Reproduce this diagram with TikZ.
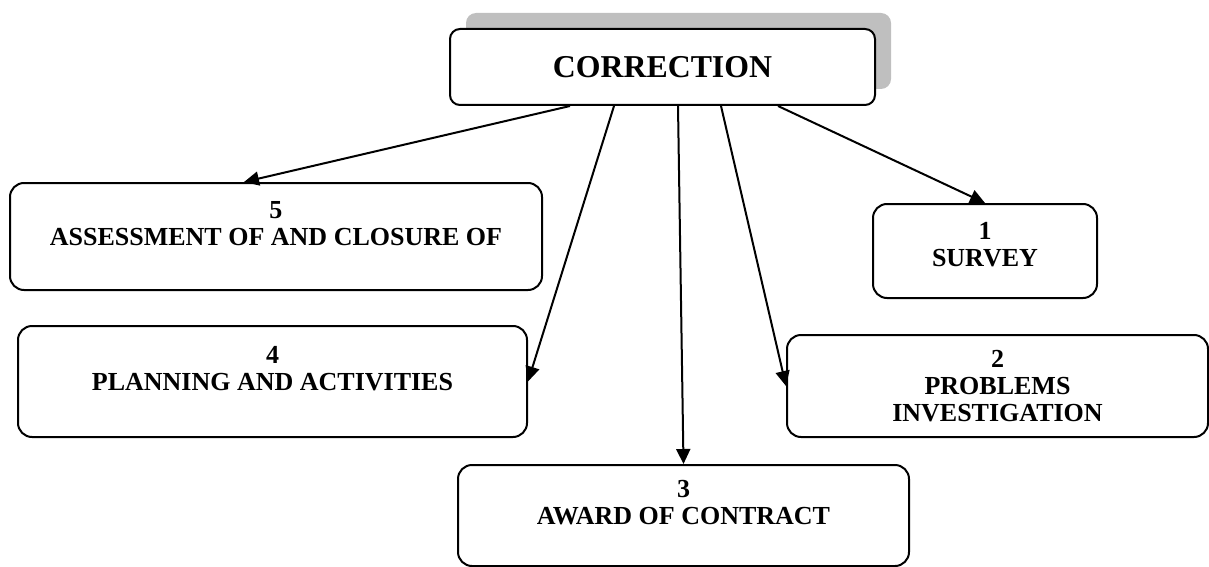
\documentclass[tikz,border=0pt]{standalone}
\usepackage{fontspec}
\setmainfont{Liberation Serif}
\usetikzlibrary{arrows.meta,shadows}

\begin{document}
\begin{tikzpicture}[x=0.5pt, y=-0.5pt,
    box/.style={rounded corners=7pt, draw=black, line width=1pt, fill=white, align=center, inner sep=0pt, font=\fontsize{13}{13.5}\selectfont\bfseries},
    arrow/.style={-{Triangle[length=7.5pt,width=7pt]}, line width=1pt, draw=black}
  ]
    \useasboundingbox (0,0) rectangle (1209,567);
    \node[box, minimum width=212.5pt, minimum height=38pt, rounded corners=5pt, font=\fontsize{15.9}{18}\selectfont\bfseries,
      drop shadow={shadow xshift=8pt, shadow yshift=8pt, fill=gray!50, opacity=1}] (corr) at (662.5,67) {CORRECTION};
    \node[box, minimum width=266pt, minimum height=53.5pt] (assess) at (276,236.5) {5\\ASSESSMENT OF AND CLOSURE OF\\\mbox{}};
    \node[box, minimum width=112pt, minimum height=47pt] (survey) at (985,251) {1\\SURVEY\\[-7pt]\mbox{}};
    \node[box, minimum width=254.5pt, minimum height=55.5pt] (plan) at (272.5,381.5) {4\\PLANNING AND ACTIVITIES\\\mbox{}};
    \node[box, minimum width=210.5pt, minimum height=51pt] (probs) at (997.5,386) {2\\PROBLEMS\\INVESTIGATION};
    \node[box, minimum width=225.5pt, minimum height=50.5pt] (award) at (683.5,515.5) {3\\AWARD OF CONTRACT\\\mbox{}};
    \draw[arrow] ([xshift=-46.25pt]corr.south) -- ([xshift=-16pt]assess.north);
    \draw[arrow] ([xshift=-24.25pt]corr.south) -- (plan.east);
    \draw[arrow] ([xshift=7.75pt]corr.south) -- (award.north);
    \draw[arrow] ([xshift=29.25pt]corr.south) -- (probs.west);
    \draw[arrow] ([xshift=57.75pt]corr.south) -- (survey.north);
  \end{tikzpicture}
\end{document}
